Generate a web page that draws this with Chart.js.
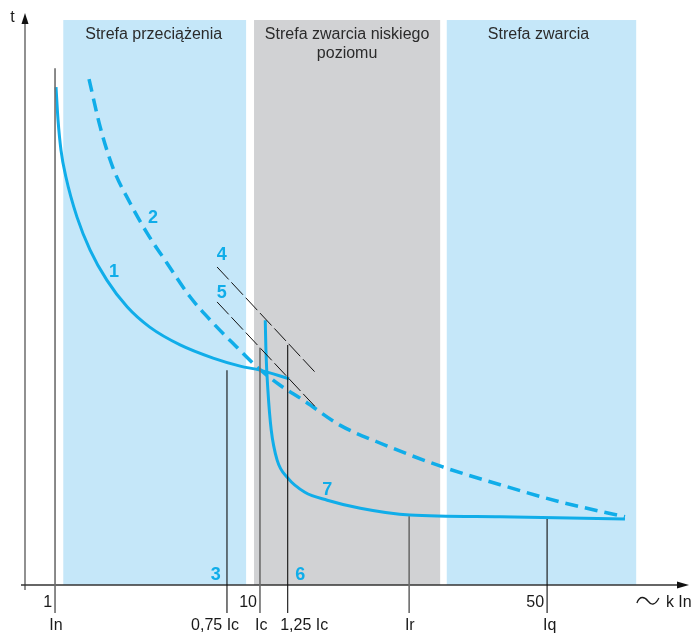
<!DOCTYPE html>
<html>
<head>
<meta charset="utf-8">
<script src="https://cdn.jsdelivr.net/npm/chart.js@4"></script>
<style>
  body { margin: 0; background: #fff; }
  #wrap { width: 692px; height: 634px; }
</style>
</head>
<body>
<div id="wrap"><canvas id="chart" width="692" height="634"></canvas></div>
<script>
// schematic units: x 0..100.6, y (t) 0..100
var zoneStart = [5.8, 34.7, 63.9];
var zoneEnd = [33.5, 62.9, 92.6];
var zoneTop = 98.6;
var zoneTitles = [["Strefa przeciążenia"], ["Strefa zwarcia niskiego", "poziomu"], ["Strefa zwarcia"]];
var zoneTitleX = [19.5, 48.8, 77.8];

var curve1X = [4.7, 5.0, 5.45, 6.2, 7.88, 9.85, 12.4, 15.5, 18.9, 23.5, 28.5, 32.6, 35.6, 40.0];
var curve1Y = [86.9, 81.2, 75.9, 71.2, 64.2, 58.5, 53.2, 48.5, 45.0, 41.9, 39.6, 38.2, 37.5, 36.0];

var curve2X = [9.7, 11.4, 13.3, 15.9, 18.5, 21.5, 25.0, 28.5, 32.1, 35.2, 38.6, 42.1, 47.7, 53.3, 63.3, 72.0, 81.1, 90.9];
var curve2Y = [88.3, 79.9, 72.9, 66.7, 61.4, 56.2, 50.3, 45.7, 41.5, 38.0, 34.9, 32.3, 27.9, 25.0, 20.6, 17.5, 14.5, 11.9];

var curve7X = [36.4, 36.5, 36.8, 37.3, 38.2, 39.8, 42.4, 45.8, 50.8, 58.3, 72.0, 90.9];
var curve7Y = [46.2, 41.0, 34.0, 27.1, 21.8, 18.7, 16.2, 14.8, 13.4, 12.2, 11.9, 11.5];

var line4X = [29.1, 43.9];
var line4Y = [55.5, 37.2];
var line5X = [29.1, 43.9];
var line5Y = [49.4, 31.2];

var markerX = [4.55, 30.6, 35.6, 39.8, 58.2, 79.1];
var markerTop = [90.2, 37.5, 41.4, 41.9, 12.0, 11.5];
var markerBottom = -4.9;
var markerGray = [true, false, true, false, true, false];

var tickValueLabels = ["1", "10", "50"];
var tickValueX = [4.55, 35.6, 79.1];
var tickNameLabels = ["In", "0,75 Ic", "Ic", "1,25 Ic", "Ir", "Iq"];
var tickNameX = [4.7, 28.8, 35.8, 42.3, 58.3, 79.5];

var curveLabels = ["1", "2", "3", "4", "5", "6", "7"];
var curveLabelX = [13.5, 19.4, 28.9, 29.8, 29.8, 41.7, 45.8];
var curveLabelY = [53.8, 63.2, 0.87, 56.7, 50.1, 0.87, 15.7];

var BLUE = "#10ade9";
var FONT = "Liberation Sans, Arial, Helvetica, sans-serif";

function pts(xs, ys) {
    var out = [];
    for (var i = 0; i < xs.length; i++) out.push({x: xs[i], y: ys[i]});
    return out;
}

var datasets = [];
for (var i = 0; i < markerX.length; i++) {
    datasets.push({
        data: pts([markerX[i], markerX[i]], [markerBottom, markerTop[i]]),
        borderColor: markerGray[i] ? "#6d6d6d" : "#111",
        borderWidth: markerGray[i] ? 1.6 : 1.1,
        clip: false
    });
}
datasets.push({data: pts(line4X, line4Y), borderColor: "#111", borderWidth: 1, borderDash: [17, 4]});
datasets.push({data: pts(line5X, line5Y), borderColor: "#111", borderWidth: 1, borderDash: [17, 4]});
datasets.push({data: pts(curve2X, curve2Y), borderColor: BLUE, borderWidth: 3.5, borderDash: [13, 7], cubicInterpolationMode: "monotone"});
datasets.push({data: pts(curve1X, curve1Y), borderColor: BLUE, borderWidth: 3, cubicInterpolationMode: "monotone"});
datasets.push({data: pts(curve7X, curve7Y), borderColor: BLUE, borderWidth: 3, cubicInterpolationMode: "monotone"});

var diagram = {
    id: "diagram",
    beforeDatasetsDraw: function(chart) {
        var c = chart.ctx, sx = chart.scales.x, sy = chart.scales.y;
        c.save();
        var fills = ["#c5e7f9", "#d1d2d4", "#c5e7f9"];
        for (var i = 0; i < zoneStart.length; i++) {
            var x0 = sx.getPixelForValue(zoneStart[i]), x1 = sx.getPixelForValue(zoneEnd[i]);
            var y0 = sy.getPixelForValue(zoneTop), y1 = sy.getPixelForValue(0);
            c.fillStyle = fills[i];
            c.fillRect(x0, y0, x1 - x0, y1 - y0);
        }
        // zone titles
        c.fillStyle = "#2b2b2b";
        c.font = "16px " + FONT;
        c.textAlign = "center";
        c.textBaseline = "alphabetic";
        for (var i = 0; i < zoneTitles.length; i++) {
            for (var j = 0; j < zoneTitles[i].length; j++) {
                c.fillText(zoneTitles[i][j], sx.getPixelForValue(zoneTitleX[i]), sy.getPixelForValue(95.3) + j * 19);
            }
        }
        // axes with arrows
        var ox = sx.getPixelForValue(0), oy = sy.getPixelForValue(0);
        var topY = sy.getPixelForValue(100), rightX = sx.getPixelForValue(100.6);
        c.strokeStyle = "#555";
        c.lineWidth = 1.3;
        c.beginPath();
        c.moveTo(ox, oy + 5);
        c.lineTo(ox, topY + 10);
        c.stroke();
        c.strokeStyle = "#333";
        c.beginPath();
        c.moveTo(ox - 4, oy);
        c.lineTo(rightX - 10, oy);
        c.stroke();
        c.fillStyle = "#111";
        c.beginPath();
        c.moveTo(ox, topY + 1);
        c.lineTo(ox - 3.5, topY + 12);
        c.lineTo(ox + 3.5, topY + 12);
        c.closePath();
        c.fill();
        c.beginPath();
        c.moveTo(rightX, oy);
        c.lineTo(rightX - 12, oy - 3.5);
        c.lineTo(rightX - 12, oy + 3.5);
        c.closePath();
        c.fill();
        c.restore();
    },
    afterDatasetsDraw: function(chart) {
        var c = chart.ctx, sx = chart.scales.x, sy = chart.scales.y;
        c.save();
        c.fillStyle = "#1a1a1a";
        c.font = "16px " + FONT;
        c.textBaseline = "alphabetic";
        c.textAlign = "right";
        for (var i = 0; i < tickValueLabels.length; i++) {
            c.fillText(tickValueLabels[i], sx.getPixelForValue(tickValueX[i]) - 3, sy.getPixelForValue(-3.84));
        }
        c.textAlign = "center";
        for (var i = 0; i < tickNameLabels.length; i++) {
            c.fillText(tickNameLabels[i], sx.getPixelForValue(tickNameX[i]), sy.getPixelForValue(-7.85));
        }
        // axis titles
        c.fillText("t", sx.getPixelForValue(-1.9), sy.getPixelForValue(98.3));
        c.textAlign = "left";
        var kx = sx.getPixelForValue(97.1), ky = sy.getPixelForValue(-3.84);
        c.fillText("k In", kx, ky);
        // alternating-current sign
        c.strokeStyle = "#1a1a1a";
        c.lineWidth = 1.3;
        c.beginPath();
        c.moveTo(kx - 29, ky - 4);
        c.bezierCurveTo(kx - 26, ky - 12, kx - 21, ky - 10, kx - 18, ky - 6);
        c.bezierCurveTo(kx - 15, ky - 2, kx - 11, ky - 1, kx - 7, ky - 9);
        c.stroke();
        // curve numbers
        c.fillStyle = BLUE;
        c.font = "bold 18px " + FONT;
        c.textAlign = "center";
        for (var i = 0; i < curveLabels.length; i++) {
            c.fillText(curveLabels[i], sx.getPixelForValue(curveLabelX[i]), sy.getPixelForValue(curveLabelY[i]));
        }
        c.restore();
    }
};

new Chart(document.getElementById("chart"), {
    type: "line",
    data: {datasets: datasets},
    options: {
        responsive: false,
        animation: false,
        events: [],
        layout: {padding: {left: 25, right: 3, top: 12, bottom: 49}},
        elements: {point: {radius: 0}, line: {fill: false, tension: 0}},
        plugins: {legend: {display: false}, tooltip: {enabled: false}},
        scales: {
            x: {type: "linear", min: 0, max: 100.6, display: false},
            y: {type: "linear", min: 0, max: 100, display: false}
        }
    },
    plugins: [diagram]
});
</script>
</body>
</html>
